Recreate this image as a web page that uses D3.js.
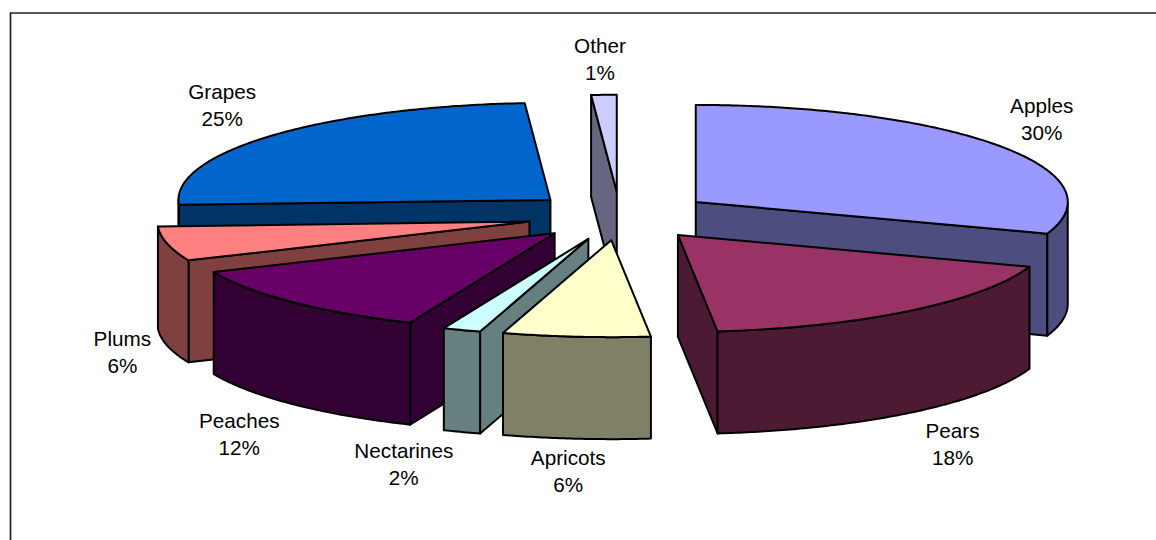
<!DOCTYPE html>
<html>
<head>
<meta charset="utf-8">
<title>Fruit pie</title>
<script src="https://d3js.org/d3.v7.min.js"></script>
<style>
  html, body { margin: 0; padding: 0; background: #fff; overflow: hidden; }
  svg { display: block; }
  text { font-family: "Liberation Sans", Arial, sans-serif; font-size: 20.7px; fill: #000; }
</style>
</head>
<body>
<script>

  // values, the labels round them
  var fruits = ["Apples", "Pears", "Apricots", "Nectarines", "Peaches", "Plums", "Grapes", "Other"];
  var shares = [30.3, 18, 6.4, 1.65, 12.1, 5.75, 24.7, 1.1];
  var topColors = ["#9999FF", "#993366", "#FFFFCC", "#CCFFFF", "#660066", "#FF8080", "#0066CC", "#CCCCFF"];
  var sideColors = ["#4D4D80", "#4D1A33", "#808066", "#668080", "#330033", "#804040", "#003366", "#666680"];

  // back to front
  var drawOrder = ["Other", "Grapes", "Apples", "Plums", "Peaches", "Nectarines", "Pears", "Apricots"];

  // how far each label sits from its slice rim, in px
  var labelNudgeX = [43, 43, -8, -58, -54, -45, -50, -4];
  var labelNudgeY = [-33, 127, 128, 128, 126, 102, -37, -42];

  var width = 1156, height = 540;
  var cx = 620, cy = 216, rx = 372, ry = 97, depth = 102, explode = 0.25;
  var lineGap = 27;

  var svg = d3.select("body").append("svg")
    .attr("width", width)
    .attr("height", height);

  // chart frame, runs off the right and the bottom
  svg.append("path")
    .attr("d", "M10.5,540V13H1156")
    .attr("fill", "none")
    .attr("stroke", "#222")
    .attr("stroke-width", 1.7);

  var x = d3.scaleLinear().domain([-1, 1]).range([cx - rx, cx + rx]);
  var y = d3.scaleLinear().domain([-1, 1]).range([cy - ry, cy + ry]);

  var pie = d3.pie().sort(null).value(function(d) { return d; });
  var slices = pie(shares);
  var total = d3.sum(shares);

  var line = d3.line()
    .x(function(d) { return d[0]; })
    .y(function(d) { return d[1]; });

  // unit point of the ellipse at angle a, clockwise from the top
  var rim = function(a, r) {
    return [r * Math.sin(a), -r * Math.cos(a)];
  };

  var slicePoint = function(s, a, r, drop) {
    var mid = (s.startAngle + s.endAngle) / 2;
    var off = rim(mid, explode);
    var p = rim(a, r);
    return [x(off[0] + p[0]), y(off[1] + p[1]) + drop];
  };

  var arcAngles = function(a0, a1) {
    var n = Math.max(2, Math.ceil((a1 - a0) / 0.01));
    return d3.range(n + 1).map(function(i) { return a0 + (a1 - a0) * i / n; });
  };

  var drawFace = function(g, points, color) {
    g.append("path")
      .attr("d", line(points) + "Z")
      .attr("fill", color)
      .attr("stroke", "#000")
      .attr("stroke-width", 2)
      .attr("stroke-linejoin", "round");
  };

  var radialFace = function(s, a) {
    return [
      slicePoint(s, a, 0, 0),
      slicePoint(s, a, 1, 0),
      slicePoint(s, a, 1, depth),
      slicePoint(s, a, 0, depth)
    ];
  };

  drawOrder.forEach(function(name) {
    var i = fruits.indexOf(name);
    var s = slices[i];
    var a0 = s.startAngle, a1 = s.endAngle;
    var g = svg.append("g").attr("class", "slice");

    // start edge faces the viewer on the left half, end edge on the right half
    if (a0 > Math.PI) drawFace(g, radialFace(s, a0), sideColors[i]);
    if (a1 < Math.PI) drawFace(g, radialFace(s, a1), sideColors[i]);

    // outer wall, only the front half of the rim shows
    var w0 = Math.max(a0, Math.PI / 2), w1 = Math.min(a1, Math.PI * 1.5);
    if (w1 > w0) {
      var angles = arcAngles(w0, w1);
      var upper = angles.map(function(a) { return slicePoint(s, a, 1, 0); });
      var lower = angles.map(function(a) { return slicePoint(s, a, 1, depth); }).reverse();
      drawFace(g, upper.concat(lower), sideColors[i]);
    }

    // top face
    var topRim = arcAngles(a0, a1).map(function(a) { return slicePoint(s, a, 1, 0); });
    drawFace(g, [slicePoint(s, a0, 0, 0)].concat(topRim), topColors[i]);
  });

  slices.forEach(function(s, i) {
    var mid = (s.startAngle + s.endAngle) / 2;
    var p = slicePoint(s, mid, 1, 0);
    var t = svg.append("text")
      .attr("text-anchor", "middle")
      .attr("x", p[0] + labelNudgeX[i])
      .attr("y", p[1] + labelNudgeY[i]);
    t.append("tspan")
      .attr("x", p[0] + labelNudgeX[i])
      .text(fruits[i]);
    t.append("tspan")
      .attr("x", p[0] + labelNudgeX[i])
      .attr("dy", lineGap)
      .text(d3.format(".0%")(shares[i] / total));
  });

</script>
</body>
</html>
